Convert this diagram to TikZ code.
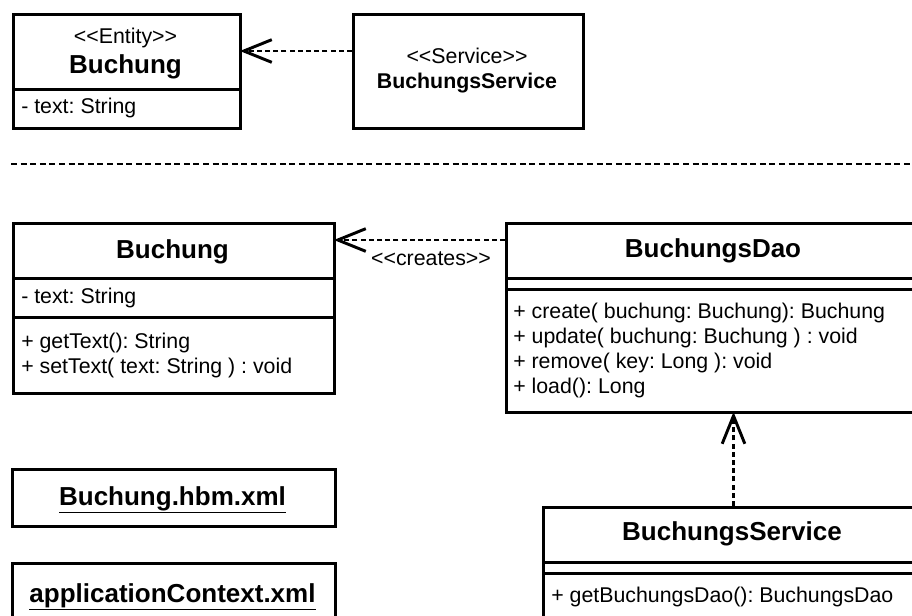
\documentclass[tikz,border=0pt]{standalone}
\usepackage{fontspec}
\setmainfont{Liberation Sans}[Ligatures=TeXOff]
\frenchspacing
\usetikzlibrary{arrows.meta}
\tikzset{ cls/.style 2 args = { draw
                              , line width     = 2.25pt
                              , inner sep      = 0pt
                              , anchor         = north west
                              , minimum width  = #1*0.75pt
                              , minimum height = #2*0.75pt
                              },
          txt/.style = { inner sep = 0pt
                       , font      = \fontsize{16}{18}\selectfont
                       },
          ttl/.style = { inner sep = 0pt
                       , font      = \fontsize{19.5}{22}\selectfont\bfseries
                       },
          div/.style = { line width = 2.25pt },
          dep/.style = { line width = 2pt
                       , dash pattern = on 3.75pt off 2.4pt
                       , shorten >= -1.6pt
                       , -{Straight Barb[length=21pt, width=17pt, line width=2.2pt]}
                       },
          sep/.style = { line width = 2.2pt
                       , dash pattern = on 4.5pt off 2.7pt
                       }
        }

\begin{document}
\begin{tikzpicture}[x=0.75pt, y=-0.75pt]
            \useasboundingbox (0,0) rectangle (912,615);
            \clip (0,0) rectangle (912,615);
            % top: entity and service
            \node[cls={227}{114}] (ent) at (12,13) {};
            \draw[div] (ent.north west) ++(0,76) -- ++(227,0);
            \node[txt, anchor=base] (entst) at (125.5,43) {<<Entity>>};
            \node[ttl, anchor=base] (entnm) at (125.5,73) {Buchung};
            \node[txt, anchor=base west] (entat) at (21,113) {- text: String};

            \node[cls={230}{114}] (srv) at (352,13) {};
            \node[txt, anchor=base] (srvst) at (467,63) {<<Service>>};
            \node[txt, anchor=base, font=\fontsize{16}{18}\selectfont\bfseries] (srvnm) at (467,88) {BuchungsService};

            \coordinate (sv) at ([yshift=-28.5pt]srv.north west);
            \draw[dep] (sv) -- (sv -| ent.east);

            \draw[sep] (11,164) -- (912,164);

            % bottom: classes
            \node[cls={321}{170}] (buch) at (12,222) {};
            \draw[div] (buch.north west) ++(0,56) -- ++(321,0);
            \draw[div] (buch.north west) ++(0,95) -- ++(321,0);
            \node[ttl, anchor=base] (buchnm) at (172.5,258) {Buchung};
            \node[txt, anchor=base west] (buchat) at (21,303) {- text: String};
            \node[txt, anchor=base west] (buchm1) at (21,348) {+ getText(): String};
            \node[txt, anchor=base west] (buchm2) at (21,373) {+ setText( text: String ) : void};

            \node[cls={416}{189}] (dao) at (505,222) {};
            \draw[div] (dao.north west) ++(0,56) -- ++(416,0);
            \draw[div] (dao.north west) ++(0,67) -- ++(416,0);
            \node[ttl, anchor=base] (daonm) at (713,257) {BuchungsDao};
            \node[txt, anchor=base west] (daom1) at (513,318) {+ create( buchung: Buchung): Buchung};
            \node[txt, anchor=base west] (daom2) at (513,343) {+ update( buchung: Buchung ) : void};
            \node[txt, anchor=base west] (daom3) at (513,368) {+ remove( key: Long ): void};
            \node[txt, anchor=base west] (daom4) at (513,393) {+ load(): Long};

            \coordinate (cr) at ([yshift=-13.5pt]dao.north west);
            \draw[dep] (cr) -- (cr -| buch.east);
            \node[txt, anchor=base] (crl) at (431,265) {<<creates>>};

            \node[cls={323}{57}] (hbm) at (11,468) {};
            \node[ttl, anchor=base] (hbmnm) at (172.5,505) {\underline{Buchung.hbm.xml}};

            \node[cls={323}{80}] (ctx) at (11,562) {};
            \node[ttl, anchor=base] (ctxnm) at (172.5,602) {\underline{applicationContext.xml}};

            \node[cls={380}{120}] (bsrv) at (542,506) {};
            \draw[div] (bsrv.north west) ++(0,56) -- ++(380,0);
            \draw[div] (bsrv.north west) ++(0,67) -- ++(380,0);
            \node[ttl, anchor=base] (bsrvnm) at (732,540) {BuchungsService};
            \node[txt, anchor=base west] (bsrvm1) at (551,602) {+ getBuchungsDao(): BuchungsDao};

            \draw[dep] (bsrv.north) -- (bsrv.north |- dao.south);
        \end{tikzpicture}
\end{document}
